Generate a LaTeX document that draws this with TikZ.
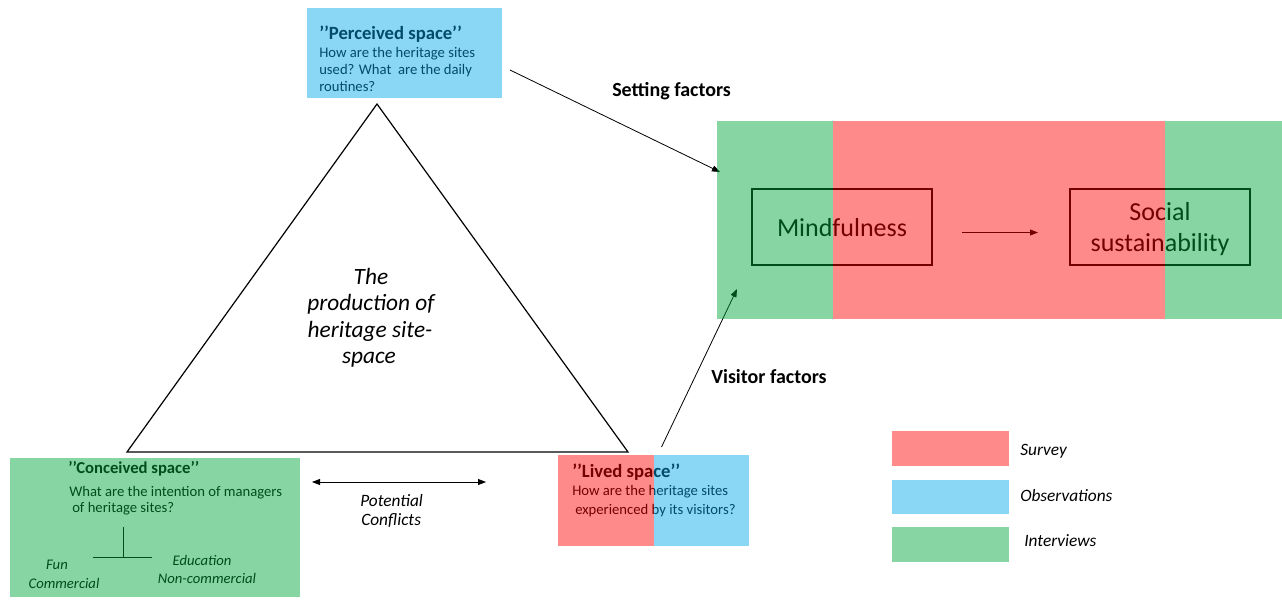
\documentclass[tikz,border=0pt]{standalone}
\usepackage{fontspec}
\setmainfont{Carlito}
\usetikzlibrary{arrows.meta,fit}
% translucent washes laid over dark text and outlines
\definecolor{washred}{rgb}{1,0,0}
\definecolor{washgreen}{rgb}{0,0.647,0.236}
\definecolor{washblue}{rgb}{0,0.649,0.915}

\begin{document}
\begin{tikzpicture}[x=0.75pt,y=-0.75pt,
  region/.style={inner sep=0pt, outer sep=0pt},
  redwash/.style={fill=washred, fill opacity=0.46},
  greenwash/.style={fill=washgreen, fill opacity=0.467},
  bluewash/.style={fill=washblue, fill opacity=0.459},
  conceptbox/.style={draw, line width=0.9pt, inner sep=0pt, outer sep=0pt},
  boxtitle/.style={anchor=base west, inner sep=0pt, font=\fontsize{14}{16}\selectfont\bfseries},
  boxtext/.style={anchor=base west, inner sep=0pt, font=\fontsize{11}{13}\selectfont},
  branch/.style={anchor=base, inner sep=0pt, font=\fontsize{11}{13}\selectfont\itshape},
  factor/.style={anchor=base west, inner sep=0pt, font=\fontsize{15}{18}\selectfont\bfseries},
  centretext/.style={anchor=base, inner sep=0pt, font=\fontsize{17.5}{20}\selectfont\itshape},
  concept/.style={anchor=base, inner sep=0pt, font=\fontsize{19.5}{23}\selectfont},
  conflict/.style={anchor=base west, inner sep=0pt, font=\fontsize{13}{15}\selectfont\itshape},
  legendtext/.style={anchor=base west, inner sep=0pt, font=\fontsize{13}{15}\selectfont\itshape},
  connector/.style={line width=0.6pt, -{Triangle[length=6pt,width=4.5pt]}},
]
\useasboundingbox (0,0) rectangle (1282,600);

% ---------- central triangle ----------
\coordinate (apex) at (377,104);
\coordinate (baseL) at (127,452);
\coordinate (baseR) at (628,452);
\draw[line width=0.9pt, line join=miter] (apex) -- (baseR) -- (baseL) -- cycle;
\node[centretext] (cen1) at (371,284) {The};
\node[centretext] (cen2) at (371,310.5) {production of};
\node[centretext] (cen3) at (370,337) {heritage site-};
\node[centretext] (cen4) at (369,363.5) {space};

% ---------- frames ----------
\node[fit={(307,8) (502,98)}, region] (perc) {};
\node[fit={(10,458) (300,597)}, region] (conc) {};
\node[fit={(558,455) (749,546)}, region] (lived) {};
\node[fit={(717,121) (1282,319)}, region] (study) {};

% perceived space
\node[boxtitle] (percT) at (319,39.5) {’’Perceived space’’};
\node[boxtext] (perc1) at (319,57.5) {How are the heritage sites};
\node[boxtext] (perc2) at (319,74.5) {used? What\ \ are the daily};
\node[boxtext] (perc3) at (319,91.5) {routines?};

% conceived space
\node[boxtitle, font=\fontsize{12.5}{15}\selectfont\bfseries] (concT) at (68,473) {’’Conceived space’’};
\node[boxtext] (conc1) at (69,496) {What are the intention of managers};
\node[boxtext] (conc2) at (72,512.5) {of heritage sites?};
\draw[line width=0.7pt] (123,527) -- (123,557);
\draw[line width=0.7pt] (93,557) -- (152,557);
\node[branch] (fun) at (57,569) {Fun};
\node[branch] (comm) at (64,588) {Commercial};
\node[branch] (edu) at (202,565) {Education};
\node[branch] (noncomm) at (207,583) {Non-commercial};

% lived space
\node[boxtitle] (livedT) at (572,477) {’’Lived space’’};
\node[boxtext] (lived1) at (572,495.5) {How are the heritage sites};
\node[boxtext] (lived2) at (575,514) {experienced by its visitors?};

% outcomes
\node[fit={(752,189) (932,265)}, conceptbox] (mind) {};
\node[fit={(1070,189) (1250,265)}, conceptbox] (social) {};
\node[concept] (mindT) at (842,236.7) {Mindfulness};
\node[concept] (social1) at (1160,220) {Social};
\node[concept] (social2) at (1160,251.7) {sustainability};
\draw[connector] ([shift={(30,5.5)}]mind.east) -- ([shift={(-32,5.5)}]social.west);

% ---------- connectors ----------
\draw[connector] ([shift={(8,17)}]perc.east) -- ([shift={(3,-48)}]study.west);
\node[factor] (setting) at (612,96.7) {Setting factors};
\draw[connector] ([shift={(8,-8)}]lived.north) -- ([shift={(20,-30)}]study.south west);
\node[factor] (visitor) at (711,383.3) {Visitor factors};

\coordinate (confL) at (312,482);
\coordinate (confR) at (486,482);
\draw[line width=0.6pt, {Triangle[length=6pt,width=4.5pt]}-{Triangle[length=6pt,width=4.5pt]}] (confL) -- (confR);
\node[conflict] (pot) at (360,506.5) {Potential};
\node[conflict] (confl) at (361,525) {Conflicts};

% ---------- washes ----------
\fill[bluewash] (perc.north west) rectangle (perc.south east);
\fill[greenwash] (conc.north west) rectangle (conc.south east);
\fill[redwash] (lived.north west) rectangle (654,546);
\fill[bluewash] (654,455) rectangle (lived.south east);
\fill[greenwash] (study.north west) rectangle (833,319);
\fill[redwash] (833,121) rectangle (1165,319);
\fill[greenwash] (1165,121) rectangle (study.south east);

% ---------- legend ----------
\node[fit={(892,431) (1009,466)}, region, redwash] (keySurvey) {};
\node[fit={(892,480) (1009,514)}, region, bluewash] (keyObs) {};
\node[fit={(892,527) (1009,562)}, region, greenwash] (keyInt) {};
\node[legendtext] (lSurvey) at (1020,455) {Survey};
\node[legendtext] (lObs) at (1020,501.7) {Observations};
\node[legendtext] (lInt) at (1024,546) {Interviews};
\end{tikzpicture}
\end{document}
